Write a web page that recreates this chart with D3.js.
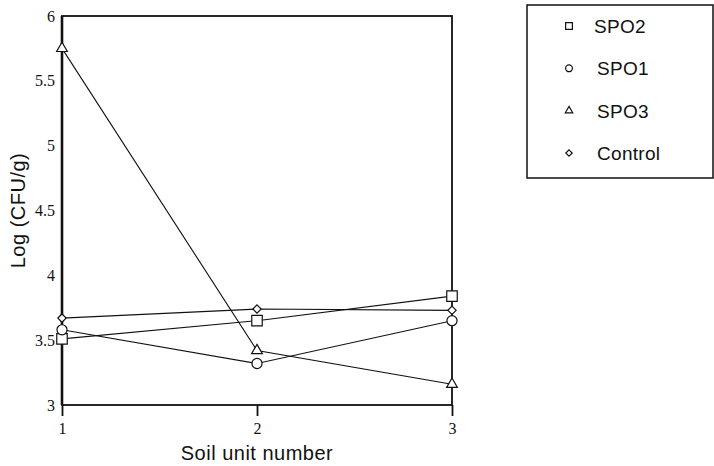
<!DOCTYPE html>
<html>
<head>
<meta charset="utf-8">
<script src="https://cdn.jsdelivr.net/npm/d3@7"></script>
<style>
  body { margin: 0; background: #fff; }
  svg { display: block; }
  .tick text { font-family: "Liberation Serif", "DejaVu Serif", serif; font-size: 16px; fill: #111; }
  .title { font-family: "Liberation Sans", Arial, sans-serif; font-size: 20px; letter-spacing: 0.5px; fill: #111; }
  .legend text { font-family: "Liberation Sans", Arial, sans-serif; font-size: 19px; letter-spacing: 0.3px; fill: #111; }
</style>
</head>
<body>
<svg id="chart" width="714" height="466"></svg>
<script>
// data
const soilUnits = [1, 2, 3];
const seriesNames = ["SPO2", "SPO1", "SPO3", "Control"];
const spo2 = [3.51, 3.65, 3.84];
const spo1 = [3.58, 3.32, 3.65];
const spo3 = [5.75, 3.42, 3.16];
const control = [3.67, 3.74, 3.73];
const yTicks = [3, 3.5, 4, 4.5, 5, 5.5, 6];

const seriesValues = [spo2, spo1, spo3, control];
const symbolTypes = [
  d3.symbolSquare,
  d3.symbolCircle,
  d3.symbolTriangle,
  d3.symbolDiamond2 || d3.symbolDiamond,
];
const plotSizes = [110, 80, 50, 44];
const legendSizes = [46, 36, 24, 26];

const series = seriesNames.map((name, i) => ({
  name,
  type: symbolTypes[i],
  size: plotSizes[i],
  legendSize: legendSizes[i],
  points: soilUnits.map((u, j) => ({ x: u, y: seriesValues[i][j] })),
}));

// settings
const margin = { top: 16, right: 262, bottom: 61, left: 62 };
const width = 714;
const height = 466;
const plotWidth = width - margin.left - margin.right;
const plotHeight = height - margin.top - margin.bottom;

const svg = d3.select("#chart");
const plot = svg
  .append("g")
  .attr("class", "plot")
  .attr("transform", `translate(${margin.left}, ${margin.top})`);

// scales, axes
const xScale = d3.scaleLinear().domain([1, 3]).range([0, plotWidth]);
const yScale = d3.scaleLinear().domain([3, 6]).range([plotHeight, 0]);

const xAxis = d3.axisBottom(xScale).tickValues(soilUnits).tickSize(11).tickPadding(7).tickFormat(d3.format("d"));
const yAxis = d3.axisLeft(yScale).tickValues(yTicks).tickSize(0).tickPadding(7).tickFormat((d) => String(d));

const xAxisG = plot
  .append("g")
  .attr("class", "axis xAxis")
  .attr("transform", `translate(0, ${plotHeight})`)
  .call(xAxis);
xAxisG.select(".domain").remove();
xAxisG.selectAll(".tick line").attr("stroke", "#111").attr("stroke-width", 1.8);

const yAxisG = plot.append("g").attr("class", "axis yAxis").call(yAxis);
yAxisG.select(".domain").remove();

// frame
plot
  .append("rect")
  .attr("width", plotWidth)
  .attr("height", plotHeight)
  .attr("fill", "none")
  .attr("stroke", "#111")
  .attr("stroke-width", 1.8);
plot
  .append("line")
  .attr("y2", plotHeight)
  .attr("stroke", "#111")
  .attr("stroke-width", 2.6);

// lines
const lineGen = d3
  .line()
  .x((d) => xScale(d.x))
  .y((d) => yScale(d.y));

plot
  .selectAll(".line")
  .data(series)
  .join("path")
  .attr("class", "line")
  .attr("d", (d) => lineGen(d.points))
  .attr("fill", "none")
  .attr("stroke", "#111")
  .attr("stroke-width", 1.1);

// markers
series.forEach((s) => {
  plot
    .selectAll(null)
    .data(s.points)
    .join("path")
    .attr("transform", (d) => `translate(${xScale(d.x)}, ${yScale(d.y)})`)
    .attr("d", d3.symbol().type(s.type).size(s.size))
    .attr("fill", "#fff")
    .attr("stroke", "#111")
    .attr("stroke-width", 1.2);
});

// axis titles
svg
  .append("text")
  .attr("class", "title")
  .attr("text-anchor", "middle")
  .attr("x", margin.left + plotWidth / 2)
  .attr("y", 460)
  .text("Soil unit number");

svg
  .append("text")
  .attr("class", "title")
  .attr("text-anchor", "middle")
  .attr("transform", `translate(25, ${margin.top + plotHeight / 2}) rotate(-90)`)
  .text("Log (CFU/g)");

// legend
const legend = svg.append("g").attr("class", "legend");
legend
  .append("rect")
  .attr("x", 527)
  .attr("y", 5)
  .attr("width", 186)
  .attr("height", 173)
  .attr("fill", "none")
  .attr("stroke", "#111")
  .attr("stroke-width", 1.5);

const legendY = d3.scalePoint().domain(seriesNames).range([26, 153]);

const items = legend
  .selectAll(".item")
  .data(series)
  .join("g")
  .attr("class", "item")
  .attr("transform", (d) => `translate(0, ${legendY(d.name)})`);

items
  .append("path")
  .attr("transform", "translate(569, 0)")
  .attr("d", (d) => d3.symbol().type(d.type).size(d.legendSize)())
  .attr("fill", "none")
  .attr("stroke", "#111")
  .attr("stroke-width", 1.2);

items
  .append("text")
  .attr("x", (d, i) => (i === 0 ? 594 : 597))
  .attr("dy", "0.36em")
  .text((d) => d.name);
</script>
</body>
</html>
